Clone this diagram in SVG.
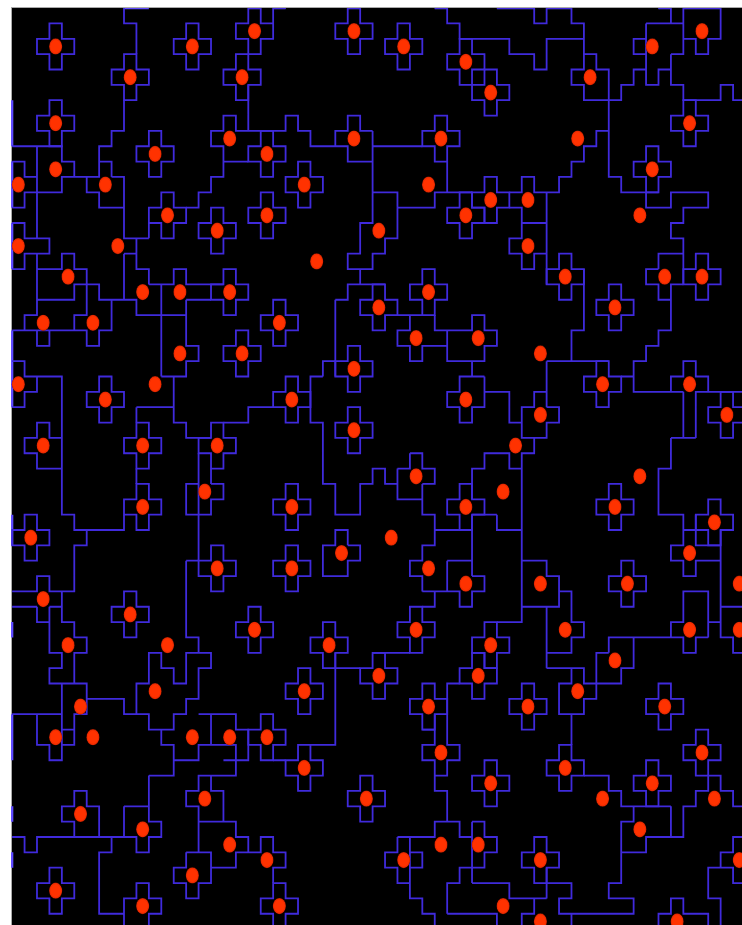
<svg xmlns="http://www.w3.org/2000/svg" width="742" height="925" viewBox="0 0 742 925">
<style>
.l,.o{fill:none;stroke:#3f2bdc;stroke-width:1.8;vector-effect:non-scaling-stroke;stroke-linejoin:miter}
.e{fill:none;stroke:#5f4cff;stroke-width:2.4;vector-effect:non-scaling-stroke}
.d{fill:url(#g)}
</style>
<defs>
<radialGradient id="g"><stop offset="0.72" stop-color="#ff3200"/><stop offset="0.9" stop-color="#e82a00"/><stop offset="1" stop-color="#7a1500"/></radialGradient>
<path id="o" class="o" d="M0 -1H1V0H2V1H1V2H0V1H-1V0H0Z"/>
<circle id="c" class="d" cx=".5" cy=".5" r=".53"/>
<filter id="b" x="0" y="0" width="1" height="1"><feGaussianBlur stdDeviation="0.45"/></filter>
</defs>
<rect x="0" y="0" width="742" height="925" fill="#fff"/>
<rect x="11" y="7" width="731" height="918" fill="#aaa"/>
<rect x="12" y="8" width="730" height="917" fill="#000"/>
<g filter="url(#b)">
<g transform="translate(-0.3 8.1) scale(12.43 15.35)">
<g id="connectors">
<path class="e" d="M10 0H12M20 0H21M22 0H23M28 0H29M35 0H36M40 0H43M44 0H46M53 0H54M55 0H58M1 6V9M1 10V13M1 14V17M1 21V26M1 33V35M1 40V41M1 46V49M1 52V53M1 55V56"/>
<path class="l" d="M10 0V1H11V3M10 6V8H9V9H8V10M1 9H5V10H6V11H5V12H2V13H1M6 11H7M1 10H2V11H3M3 9V15M1 14H2V15H4V16H2V17H1M3 16V19M3 17H5V16H6V17H7V20H6V21M3 19H6V18H8V19H11V20H15M10 11V15H12M12 14V15M11 15V17H12V18M10 16H11M10 16V19M9 19V21H8V22H7V21H1M9 11V10H8V11H7V12H8V13H10V11H9M12 18H14V17H15V18H18M13 18V24M15 19V22H16V23H15V24H13M15 19H17M15 13H16V12H17V11H18V9M20 8H19V7H18V8H17V9H18V11H17M18 10H20M20 5V8H23V7H24V8H25V9H28V10H30M30 8H29V7H28V8H27V9M30 8V14H29V16H28V17H30V16H31V15H32V12H30M32 13H35V12H38M36 10V12M30 9H34M29 17V18M27 19H28V18H31M22 1V0H23M35 0H36V1H37V2H41V3H43V4H44V2H47M40 0H43V1H44V0H46V1H47V4H46V5H47V6H50V5H51V4H52M47 3H48V4H49V11H50V12H53M52 1V5H53V4H54V5H55V6H58V5H59V6H60M52 1H55M52 2H51V3H52M54 3V4M54 3H55V0H58V2H57V3H56V2H55M54 0V1M53 0H54M49 8H48V9H47V10H46V11H45V12H44V18M41 12H42V11H43V12H44M41 13H42V15H41V16H42V17H43V16H44M42 14H44M47 17V21H46V23M44 23H49M44 23V26M44 25H43V26H42V28H44V27H45V26H44M52 12V13H54V12H57V13H55V14H54V15H55V18M53 17V16H55M53 17H52V18H53V19H54V18H55M54 19V21H53V22H52V23H51V25H55M50 24H51M54 25V24H55V23H56V24H57V25H56V28M56 25H60M55 25V28M54 28H56M54 28V30H53V33H55V34H56M39 25H41V27H42M43 28V29H42V40H40M38 32V30H39V29H41V30H42M42 36H44V37H45V39H42M45 38H46V40H47V41H46V42H44M44 39V43M44 43H47V44H50V43H51V41M49 42V41H55V42H56V41H57M49 42H48V45H47V46H45V44H46V43M54 41V40H55V38H57V41M55 40V38M57 40H58M58 34V41H59V42H60M58 39H60M46 46V48M47 50H49V51H50V52H54M51 52V53H50V57H49V58H51V59H45V58H46V57H44M50 55H52V54H55V52H56V51H57V50H58V51H59V52H60M54 52V54M44 56V58M38 57H41V58H44M43 58V59H42V60M46 59V60M36 59H40V60M60 54H59V55H58V56H57V58H58V60M58 56H59V57H60M30 42H33M27 42V48H25M27 43H29M22 49H23M34 47H35M35 46V48H34V49H35V50H36V49H37V48H36V44H37M35 50V51H36V53H35V54H32M36 53H37V54H38M38 53H39V54H40V55H39V56H38M38 53V57M38 56H37V57H36V59M20 54V55H21V54H22V55H23V56H22V57M32 54V55H31V56H32V57H33V54M33 55H34V56H33M33 57V58H34V59H35V60M3 39V40H4M1 38H3V37H4V38H6M1 39H3M4 39H5V38M5 39V40H6V41H7V42H6V44M4 39V42H5V43H4V44H7V46H6V48H5V49H4V48H3V46M1 46H5V49M5 44V47H6M7 45H10V46H11V44H12V42H13V43H14V44H15V42H17V43H16V45H15V46H14V47H12V46H10M13 47V48H14V50H12M14 49H16V48H19V49H18M16 46H19V47H20V49H18M17 46V48M15 39V41H16V42M19 49V50H16V51H15V52H16V55M15 55V56H14V57H15V58H16V57H17V55H15M17 50V51H18V53H16M18 53H19V54H20V55H19V56H17M20 55H21M1 54H2V55H3V54H11V55H12V54H13V53H12V50M9 54V55H8V59H10V60M10 52H12M10 52V54M10 60V58H11V57H12V58H13V59H12V60M3 19V20H2V21M3 21V22H4V21M7 19V20M11 19V20M1 23H2V24H5V33H6V34H10V33M3 24V25H2V26H1M2 23V24M5 28H4V27H3V28H2V29H3V30H5M11 26H14V27H15V28H17M11 26V27M14 24V27M11 30V31M17 30V31M16 29V33H15V31H16M17 31H18V32H17V33H16M16 33V36M15 36H16M15 36V40M18 27H20V26H22M7 34V35H6V38H4M5 38V39M27 19V24M26 24V23H27M26 24H25V27H26V31H27V33H29V31H30V30H31V31H32V32H34V33H35V35H34V36H33V37H34V38M32 30V31M34 31V33M33 29H34V30H35V31H34M32 30H33V29M35 34H38M36 36H38M36 36V38M34 38H37V39H38V38H39V37H38M38 33V37M35 38V39H34M32 20H34M33 20V21H32V22H33V23H34V22H36M35 20V21H38V20H39V21H40V22H39V23H36V21M38 23V24M39 24V26H38V27H37V26H36V25H37V24H39M28 35V34H27V35H26V37H28V36H29V35H28M56 33V35H58M55 34V35H54V36H55V37H56V36H58M53 33H55M40 33V34H42M38 33H40"/>
</g>
<g id="nodes">
<g id="n4_2" transform="translate(4 2)"><use href="#o"/><use href="#c"/></g>
<g id="n10_4" transform="translate(10 4)"><use href="#o"/><use href="#c"/></g>
<g id="n15_2" transform="translate(15 2)"><use href="#o"/><use href="#c"/></g>
<g id="n19_4" transform="translate(19 4)"><use href="#o"/><use href="#c"/></g>
<g id="n20_1" transform="translate(20 1)"><use href="#o"/><use href="#c"/></g>
<g id="n4_7" transform="translate(4 7)"><use href="#o"/><use href="#c"/></g>
<g id="n18_8" transform="translate(18 8)"><use href="#c"/></g>
<g id="n12_9" transform="translate(12 9)"><use href="#o"/><use href="#c"/></g>
<g id="n4_10" transform="translate(4 10)"><use href="#c"/></g>
<g id="n1_11" transform="translate(1 11)"><use href="#c"/></g>
<g id="n8_11" transform="translate(8 11)"><use href="#c"/></g>
<g id="n13_13" transform="translate(13 13)"><use href="#o"/><use href="#c"/></g>
<g id="n17_14" transform="translate(17 14)"><use href="#o"/><use href="#c"/></g>
<g id="n1_15" transform="translate(1 15)"><use href="#c"/></g>
<g id="n9_15" transform="translate(9 15)"><use href="#c"/></g>
<g id="n5_17" transform="translate(5 17)"><use href="#c"/></g>
<g id="n11_18" transform="translate(11 18)"><use href="#c"/></g>
<g id="n14_18" transform="translate(14 18)"><use href="#c"/></g>
<g id="n18_18" transform="translate(18 18)"><use href="#o"/><use href="#c"/></g>
<g id="n28_1" transform="translate(28 1)"><use href="#o"/><use href="#c"/></g>
<g id="n32_2" transform="translate(32 2)"><use href="#o"/><use href="#c"/></g>
<g id="n37_3" transform="translate(37 3)"><use href="#o"/><use href="#c"/></g>
<g id="n39_5" transform="translate(39 5)"><use href="#o"/><use href="#c"/></g>
<g id="n21_9" transform="translate(21 9)"><use href="#o"/><use href="#c"/></g>
<g id="n28_8" transform="translate(28 8)"><use href="#c"/></g>
<g id="n35_8" transform="translate(35 8)"><use href="#o"/><use href="#c"/></g>
<g id="n24_11" transform="translate(24 11)"><use href="#o"/><use href="#c"/></g>
<g id="n34_11" transform="translate(34 11)"><use href="#c"/></g>
<g id="n21_13" transform="translate(21 13)"><use href="#o"/><use href="#c"/></g>
<g id="n37_13" transform="translate(37 13)"><use href="#o"/><use href="#c"/></g>
<g id="n39_12" transform="translate(39 12)"><use href="#o"/><use href="#c"/></g>
<g id="n30_14" transform="translate(30 14)"><use href="#c"/></g>
<g id="n25_16" transform="translate(25 16)"><use href="#c"/></g>
<g id="n34_18" transform="translate(34 18)"><use href="#o"/><use href="#c"/></g>
<g id="n30_19" transform="translate(30 19)"><use href="#o"/><use href="#c"/></g>
<g id="n47_4" transform="translate(47 4)"><use href="#c"/></g>
<g id="n52_2" transform="translate(52 2)"><use href="#c"/></g>
<g id="n56_1" transform="translate(56 1)"><use href="#c"/></g>
<g id="n55_7" transform="translate(55 7)"><use href="#o"/><use href="#c"/></g>
<g id="n46_8" transform="translate(46 8)"><use href="#c"/></g>
<g id="n52_10" transform="translate(52 10)"><use href="#o"/><use href="#c"/></g>
<g id="n42_12" transform="translate(42 12)"><use href="#c"/></g>
<g id="n51_13" transform="translate(51 13)"><use href="#c"/></g>
<g id="n42_15" transform="translate(42 15)"><use href="#c"/></g>
<g id="n45_17" transform="translate(45 17)"><use href="#o"/><use href="#c"/></g>
<g id="n53_17" transform="translate(53 17)"><use href="#c"/></g>
<g id="n56_17" transform="translate(56 17)"><use href="#o"/><use href="#c"/></g>
<g id="n49_19" transform="translate(49 19)"><use href="#o"/><use href="#c"/></g>
<g id="n3_20" transform="translate(3 20)"><use href="#c"/></g>
<g id="n7_20" transform="translate(7 20)"><use href="#c"/></g>
<g id="n14_22" transform="translate(14 22)"><use href="#c"/></g>
<g id="n19_22" transform="translate(19 22)"><use href="#o"/><use href="#c"/></g>
<g id="n1_24" transform="translate(1 24)"><use href="#c"/></g>
<g id="n12_24" transform="translate(12 24)"><use href="#c"/></g>
<g id="n8_25" transform="translate(8 25)"><use href="#o"/><use href="#c"/></g>
<g id="n3_28" transform="translate(3 28)"><use href="#c"/></g>
<g id="n11_28" transform="translate(11 28)"><use href="#o"/><use href="#c"/></g>
<g id="n17_28" transform="translate(17 28)"><use href="#o"/><use href="#c"/></g>
<g id="n16_31" transform="translate(16 31)"><use href="#c"/></g>
<g id="n11_32" transform="translate(11 32)"><use href="#o"/><use href="#c"/></g>
<g id="n2_34" transform="translate(2 34)"><use href="#o"/><use href="#c"/></g>
<g id="n17_36" transform="translate(17 36)"><use href="#o"/><use href="#c"/></g>
<g id="n3_38" transform="translate(3 38)"><use href="#c"/></g>
<g id="n10_39" transform="translate(10 39)"><use href="#o"/><use href="#c"/></g>
<g id="n22_20" transform="translate(22 20)"><use href="#o"/><use href="#c"/></g>
<g id="n33_21" transform="translate(33 21)"><use href="#c"/></g>
<g id="n38_21" transform="translate(38 21)"><use href="#c"/></g>
<g id="n28_23" transform="translate(28 23)"><use href="#o"/><use href="#c"/></g>
<g id="n23_25" transform="translate(23 25)"><use href="#o"/><use href="#c"/></g>
<g id="n37_25" transform="translate(37 25)"><use href="#c"/></g>
<g id="n28_27" transform="translate(28 27)"><use href="#o"/><use href="#c"/></g>
<g id="n33_30" transform="translate(33 30)"><use href="#c"/></g>
<g id="n37_32" transform="translate(37 32)"><use href="#o"/><use href="#c"/></g>
<g id="n40_31" transform="translate(40 31)"><use href="#c"/></g>
<g id="n23_32" transform="translate(23 32)"><use href="#o"/><use href="#c"/></g>
<g id="n31_34" transform="translate(31 34)"><use href="#c"/></g>
<g id="n27_35" transform="translate(27 35)"><use href="#c"/></g>
<g id="n34_36" transform="translate(34 36)"><use href="#c"/></g>
<g id="n23_36" transform="translate(23 36)"><use href="#o"/><use href="#c"/></g>
<g id="n37_37" transform="translate(37 37)"><use href="#c"/></g>
<g id="n48_24" transform="translate(48 24)"><use href="#o"/><use href="#c"/></g>
<g id="n55_24" transform="translate(55 24)"><use href="#c"/></g>
<g id="n43_22" transform="translate(43 22)"><use href="#c"/></g>
<g id="n43_26" transform="translate(43 26)"><use href="#c"/></g>
<g id="n58_26" transform="translate(58 26)"><use href="#o"/><use href="#c"/></g>
<g id="n41_28" transform="translate(41 28)"><use href="#c"/></g>
<g id="n51_30" transform="translate(51 30)"><use href="#c"/></g>
<g id="n49_32" transform="translate(49 32)"><use href="#o"/><use href="#c"/></g>
<g id="n57_33" transform="translate(57 33)"><use href="#o"/><use href="#c"/></g>
<g id="n55_35" transform="translate(55 35)"><use href="#c"/></g>
<g id="n43_37" transform="translate(43 37)"><use href="#c"/></g>
<g id="n50_37" transform="translate(50 37)"><use href="#o"/><use href="#c"/></g>
<g id="n59_37" transform="translate(59 37)"><use href="#c"/></g>
<g id="n20_40" transform="translate(20 40)"><use href="#o"/><use href="#c"/></g>
<g id="n5_41" transform="translate(5 41)"><use href="#c"/></g>
<g id="n13_41" transform="translate(13 41)"><use href="#c"/></g>
<g id="n12_44" transform="translate(12 44)"><use href="#c"/></g>
<g id="n6_45" transform="translate(6 45)"><use href="#c"/></g>
<g id="n4_47" transform="translate(4 47)"><use href="#c"/></g>
<g id="n7_47" transform="translate(7 47)"><use href="#c"/></g>
<g id="n15_47" transform="translate(15 47)"><use href="#c"/></g>
<g id="n18_47" transform="translate(18 47)"><use href="#c"/></g>
<g id="n16_51" transform="translate(16 51)"><use href="#c"/></g>
<g id="n6_52" transform="translate(6 52)"><path class="l" d="M0 2V1H-1V0H0V-1H1V0H2V2"/><use href="#c"/></g>
<g id="n11_53" transform="translate(11 53)"><use href="#c"/></g>
<g id="n18_54" transform="translate(18 54)"><use href="#c"/></g>
<g id="n15_56" transform="translate(15 56)"><use href="#c"/></g>
<g id="n4_57" transform="translate(4 57)"><use href="#o"/><use href="#c"/></g>
<g id="n11_58" transform="translate(11 58)"><use href="#c"/></g>
<g id="n26_41" transform="translate(26 41)"><use href="#o"/><use href="#c"/></g>
<g id="n33_40" transform="translate(33 40)"><use href="#o"/><use href="#c"/></g>
<g id="n39_41" transform="translate(39 41)"><use href="#o"/><use href="#c"/></g>
<g id="n30_43" transform="translate(30 43)"><use href="#o"/><use href="#c"/></g>
<g id="n38_43" transform="translate(38 43)"><use href="#o"/><use href="#c"/></g>
<g id="n24_44" transform="translate(24 44)"><use href="#o"/><use href="#c"/></g>
<g id="n34_45" transform="translate(34 45)"><use href="#o"/><use href="#c"/></g>
<g id="n21_47" transform="translate(21 47)"><use href="#o"/><use href="#c"/></g>
<g id="n35_48" transform="translate(35 48)"><use href="#c"/></g>
<g id="n24_49" transform="translate(24 49)"><use href="#o"/><use href="#c"/></g>
<g id="n39_50" transform="translate(39 50)"><use href="#o"/><use href="#c"/></g>
<g id="n29_51" transform="translate(29 51)"><use href="#o"/><use href="#c"/></g>
<g id="n21_55" transform="translate(21 55)"><use href="#c"/></g>
<g id="n32_55" transform="translate(32 55)"><use href="#c"/></g>
<g id="n35_54" transform="translate(35 54)"><use href="#c"/></g>
<g id="n38_54" transform="translate(38 54)"><use href="#c"/></g>
<g id="n22_58" transform="translate(22 58)"><use href="#o"/><use href="#c"/></g>
<g id="n40_58" transform="translate(40 58)"><use href="#c"/></g>
<g id="n45_40" transform="translate(45 40)"><use href="#c"/></g>
<g id="n55_40" transform="translate(55 40)"><use href="#c"/></g>
<g id="n59_40" transform="translate(59 40)"><use href="#c"/></g>
<g id="n49_42" transform="translate(49 42)"><use href="#c"/></g>
<g id="n46_44" transform="translate(46 44)"><use href="#c"/></g>
<g id="n42_45" transform="translate(42 45)"><use href="#o"/><use href="#c"/></g>
<g id="n53_45" transform="translate(53 45)"><use href="#o"/><use href="#c"/></g>
<g id="n56_48" transform="translate(56 48)"><use href="#o"/><use href="#c"/></g>
<g id="n45_49" transform="translate(45 49)"><use href="#o"/><use href="#c"/></g>
<g id="n52_50" transform="translate(52 50)"><use href="#o"/><use href="#c"/></g>
<g id="n48_51" transform="translate(48 51)"><use href="#c"/></g>
<g id="n57_51" transform="translate(57 51)"><use href="#c"/></g>
<g id="n51_53" transform="translate(51 53)"><use href="#c"/></g>
<g id="n43_55" transform="translate(43 55)"><use href="#o"/><use href="#c"/></g>
<g id="n59_55" transform="translate(59 55)"><use href="#c"/></g>
<g id="n43_59" transform="translate(43 59)"><use href="#c"/></g>
<g id="n54_59" transform="translate(54 59)"><path class="l" d="M-1 2V0H0V-1H1V0H3V2"/><use href="#c"/></g>
</g>
</g>
</g>
</svg>
